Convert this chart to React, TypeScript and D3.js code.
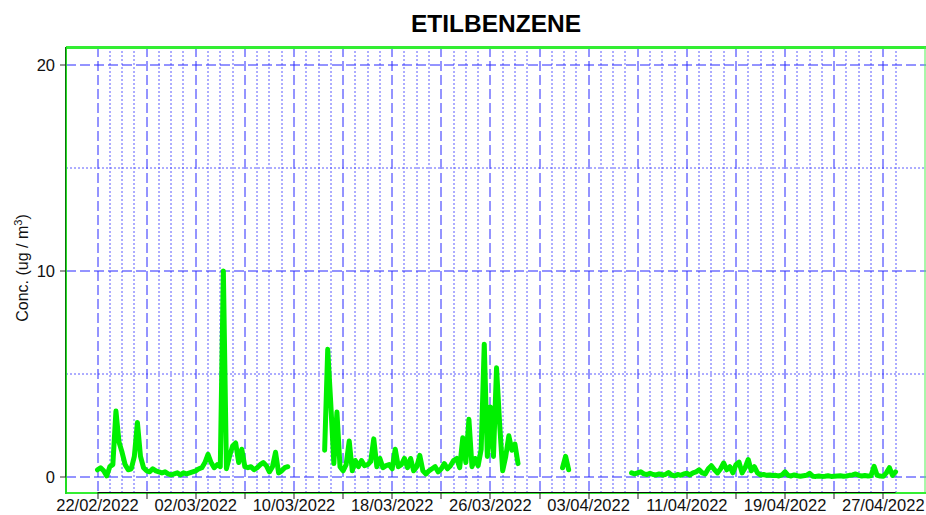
import React from "react";
import * as d3 from "d3";

const W = 926;
const H = 515;
const TITLE = "ETILBENZENE";

// Data: samples every 6 hours, grouped in continuous segments
const STEP_HOURS = 6;
const seg1Start = Date.UTC(2022, 1, 22, 0);
const seg1Values = [
  0.35, 0.45, 0.3, 0.05, 0.5, 0.6, 3.2, 1.7, 1.2, 0.6,
  0.35, 0.4, 1.0, 2.65, 1.0, 0.45, 0.3, 0.25, 0.4, 0.3,
  0.25, 0.2, 0.25, 0.15, 0.1, 0.15, 0.2, 0.1, 0.2, 0.15,
  0.2, 0.25, 0.3, 0.4, 0.45, 0.7, 1.1, 0.7, 0.45, 0.6,
  0.5, 10.0, 0.4, 1.0, 1.5, 1.65, 0.7, 1.35, 0.5, 0.45,
  0.5, 0.35, 0.45, 0.6, 0.7, 0.55, 0.25, 0.5, 1.2, 0.2,
  0.3, 0.45, 0.5,
];
const seg2Start = Date.UTC(2022, 2, 12, 12);
const seg2Values = [
  1.3, 6.2, 3.55, 0.65, 3.15, 0.5, 0.3, 0.6, 1.75, 0.3,
  0.8, 0.5, 0.8, 0.55, 0.6, 0.75, 1.85, 0.5, 0.9, 0.45,
  0.55, 0.6, 0.4, 1.35, 0.5, 0.6, 0.9, 0.45, 0.9, 0.3,
  0.5, 1.05, 0.3, 0.15, 0.3, 0.4, 0.5, 0.25, 0.4, 0.65,
  0.4, 0.55, 0.8, 0.9, 0.45, 1.9, 0.7, 2.8, 0.5, 0.9,
  0.55, 1.35, 6.45, 1.0, 3.4, 1.0, 5.3, 2.6, 0.3, 1.0,
  2.0, 1.3, 1.6, 0.65,
];
const seg3Start = Date.UTC(2022, 2, 31, 21);
const seg3Values = [0.45, 1.0, 0.35];
const seg4Start = Date.UTC(2022, 3, 6, 12);
const seg4Values = [
  0.2, 0.15, 0.2, 0.25, 0.15, 0.12, 0.18, 0.12, 0.1, 0.15,
  0.1, 0.12, 0.22, 0.1, 0.05, 0.12, 0.08, 0.15, 0.18, 0.1,
  0.2, 0.25, 0.35, 0.2, 0.15, 0.4, 0.55, 0.35, 0.2, 0.4,
  0.68, 0.35, 0.5, 0.2, 0.6, 0.72, 0.2, 0.45, 0.85, 0.3,
  0.5, 0.2, 0.1, 0.12, 0.08, 0.1, 0.07, 0.08, 0.05, 0.1,
  0.25, 0.08, 0.05, 0.1, 0.06, 0.04, 0.06, 0.08, 0.18, 0.04,
  0.03, 0.05, 0.03, 0.04, 0.06, 0.03, 0.04, 0.05, 0.06, 0.04,
  0.05, 0.08, 0.1, 0.15, 0.08, 0.05, 0.07, 0.05, 0.06, 0.52,
  0.08, 0.05, 0.04, 0.2, 0.45, 0.08, 0.25,
];

const segStarts = [seg1Start, seg2Start, seg3Start, seg4Start];
const segValues = [seg1Values, seg2Values, seg3Values, seg4Values];

const yTicks = [0, 10, 20];
const yMinorTicks = [5, 15];
const gridStart = Date.UTC(2022, 1, 22);
const gridEnd = Date.UTC(2022, 3, 28);
const axisDomain: [Date, Date] = [new Date(Date.UTC(2022, 1, 19, 10, 24)), new Date(Date.UTC(2022, 3, 30, 11, 30))];

export default function App() {
  const left = 66, right = 926, top = 47, bottom = 493;
  const x = d3.scaleUtc().domain(axisDomain).range([left, right]);
  const y = d3.scaleLinear().domain([0, 20]).range([477, 65]);

  const days = d3.utcDay.range(new Date(gridStart), new Date(gridEnd + 3600e3));
  const majorDays = days.filter((_, i) => i % 4 === 0);
  const minorDays = days.filter((_, i) => i % 4 !== 0);
  const labelDays = days.filter((_, i) => i % 8 === 0);
  const fmt = d3.utcFormat("%d/%m/%Y");

  const line = d3
    .line<[Date, number]>()
    .x((d) => x(d[0]))
    .y((d) => y(d[1]));

  const segments = segValues.map((vals, s) =>
    vals.map((v, i) => [new Date(segStarts[s] + i * STEP_HOURS * 3600e3), v] as [Date, number])
  );

  const blueDash = "rgb(40,40,255)";
  const blueDot = "rgb(90,90,255)";
  const font = "Liberation Sans, Arial, sans-serif";
  const gx = (v: number) => Math.round(v);
  const px = (v: number) => Math.round(v) + 0.5;

  return (
    <svg
      width={W}
      height={H}
      style={{ position: "absolute", left: 0, top: 0, background: "#fff" }}
      fontFamily={font}
    >
      <text x={496} y={32} textAnchor="middle" fontSize={24.5} fontWeight="bold" fill="#000">
        {TITLE}
      </text>

      {/* grid */}
      <g fill="none">
        {minorDays.map((d, i) => (
          <line key={"vd" + i} x1={gx(x(d))} x2={gx(x(d))} y1={top} y2={bottom}
            style={{ stroke: blueDot, strokeWidth: 1, strokeDasharray: "2 2" }} />
        ))}
        {yMinorTicks.map((t) => (
          <line key={"hm" + t} x1={left} x2={right} y1={gx(y(t))} y2={gx(y(t))}
            style={{ stroke: blueDot, strokeWidth: 1, strokeDasharray: "2 2" }} />
        ))}
        {majorDays.map((d, i) => (
          <line key={"vD" + i} x1={gx(x(d))} x2={gx(x(d))} y1={top} y2={bottom}
            style={{ stroke: blueDash, strokeWidth: 1, strokeDasharray: "10 4" }} />
        ))}
        {yTicks.map((t) => (
          <line key={"hM" + t} x1={left} x2={right} y1={gx(y(t))} y2={gx(y(t))}
            style={{ stroke: blueDash, strokeWidth: 1, strokeDasharray: "10 4" }} />
        ))}
      </g>

      {/* data */}
      {segments.map((seg, i) => (
        <path key={"s" + i} d={line(seg) || ""} fill="none" stroke="#00f000" strokeWidth={5}
          strokeLinejoin="round" strokeLinecap="round" />
      ))}

      {/* frame */}
      <line x1={left} x2={right} y1={top + 0.5} y2={top + 0.5} stroke="#33ee33" strokeWidth={3} />
      <line x1={right - 1} x2={right - 1} y1={top} y2={bottom} stroke="#55ee55" strokeWidth={1} />
      <line x1={left} x2={right} y1={bottom} y2={bottom} stroke="#33ee33" strokeWidth={2} />
      <line x1={left} x2={left} y1={top} y2={bottom + 1} stroke="#22dd22" strokeWidth={2} />

      {/* axes */}
      <line x1={left - 0.5} x2={left - 0.5} y1={top} y2={y(0)} stroke="#000" strokeOpacity={0.5} strokeWidth={1} />
      {yTicks.map((t) => (
        <g key={"yt" + t}>
          <line x1={left - 6} x2={left} y1={gx(y(t))} y2={gx(y(t))} stroke="#333" />
          <text x={55} y={y(t)} dy="0.35em" textAnchor="end" fontSize={16.5} fill="#111">
            {t}
          </text>
        </g>
      ))}
      <line x1={x(days[0])} x2={x(days[days.length - 1])} y1={bottom - 0.5} y2={bottom - 0.5} stroke="#111" strokeWidth={1} />
      {majorDays.map((d, i) => (
        <line key={"xt" + i} x1={gx(x(d))} x2={gx(x(d))} y1={bottom} y2={bottom + 6}
          stroke="#222" strokeWidth={1} />
      ))}
      {labelDays.map((d, i) => (
        <text key={"xl" + i} x={x(d)} y={511} textAnchor="middle" fontSize={16.5} fill="#111">
          {fmt(d)}
        </text>
      ))}

      <text transform={`translate(28,268) rotate(-90)`} textAnchor="middle" fontSize={16} fill="#111">
        Conc. (ug / m<tspan dy={-6} fontSize={11}>3</tspan><tspan dy={6}>)</tspan>
      </text>
    </svg>
  );
}
